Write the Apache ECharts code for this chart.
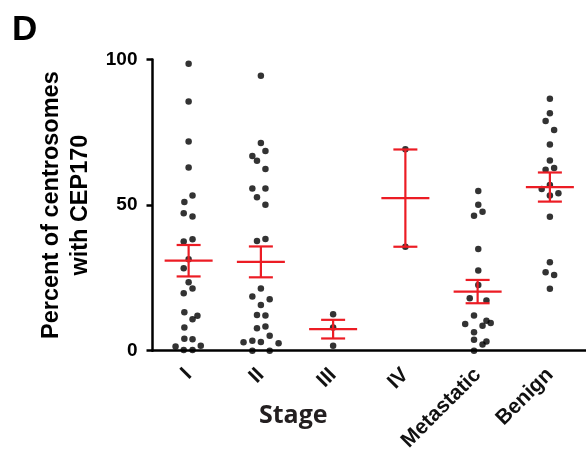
<!DOCTYPE html>
<html>
<head>
<meta charset="utf-8">
<script src="https://cdn.jsdelivr.net/npm/echarts@6/dist/echarts.min.js"></script>
<style>
  html, body { margin: 0; padding: 0; background: #fff; }
  #main { width: 586px; height: 458px; }
</style>
</head>
<body>
<div id="main"></div>
<script>
// categories on the x axis
const categories = ["I", "II", "III", "IV", "Metastatic", "Benign"];
// y axis ticks
const yTicks = [0, 50, 100];

// points per group: [horizontal jitter (category units), percent]
const stageI = [
  [0, 98.5], [0, 85.6], [0, 71.8], [0, 62.9], [0.054, 53.3], [-0.059, 51.1],
  [-0.068, 47.2], [0.054, 46.1], [0.054, 38.3], [-0.068, 37.5], [0, 31.4],
  [-0.068, 28.3], [0, 23.5], [0.054, 21.4], [-0.068, 19.7], [-0.059, 13.2],
  [0.122, 12.0], [0.054, 10.8], [-0.059, 8.0], [-0.059, 4.1], [0.054, 3.9],
  [-0.181, 1.4], [0.168, 1.7], [-0.068, 0.2], [0.054, 0.2]
];
const stageII = [
  [0, 94.4], [0, 71.3], [0.063, 68.6], [-0.118, 66.9], [-0.054, 65.2],
  [0.063, 62.4], [-0.118, 55.7], [0.063, 55.7], [-0.054, 52.7], [0.063, 50.1],
  [-0.054, 37.7], [0.063, 38.4], [0, 21.4], [-0.118, 18.6], [0.122, 17.7],
  [0, 15.7], [-0.054, 12.3], [0.063, 12.1], [-0.054, 7.7], [0.063, 8.3],
  [0.122, 5.1], [-0.24, 2.9], [-0.118, 3.4], [0, 3.0], [0.245, 2.6],
  [-0.118, 0], [0.122, 0]
];
const stageIII = [[0, 12.5], [0, 8.0], [0, 1.7]];
const stageIV = [[0, 69.2], [0, 35.7]];
const metastatic = [
  [0.009, 54.8], [0.009, 50.1], [-0.05, 46.3], [0.068, 47.7], [0.009, 34.9],
  [0.009, 27.5], [0.009, 22.6], [-0.109, 18.0], [0.122, 17.2], [-0.05, 12.1],
  [-0.172, 9.2], [0.122, 10.3], [0.181, 9.5], [0.068, 8.6], [-0.05, 6.3],
  [-0.05, 3.8], [0.122, 3.2], [0.068, 2.1], [-0.05, 0]
];
const benign = [
  [0, 86.5], [0, 81.5], [-0.059, 78.9], [0.059, 75.8], [0, 70.8], [0, 65.3],
  [-0.059, 62.1], [0.059, 62.7], [0, 56.9], [-0.113, 55.5], [0, 53.3],
  [0.118, 54.1], [0, 46.0], [0, 30.4], [-0.059, 26.9], [0.059, 26.0], [0, 21.3]
];

// mean and SEM per group
const means = [30.9, 30.5, 7.4, 52.4, 20.3, 56.2];
const sems = [5.4, 5.3, 3.2, 16.7, 4.0, 5.0];

const groups = [stageI, stageII, stageIII, stageIV, metastatic, benign];
const red = "#ec1c24";

var chart = echarts.init(document.getElementById("main"));

// scatter points, group i sits at x = i + 1 on the hidden value axis
var points = [];
groups.forEach(function (g, i) {
  g.forEach(function (p) {
    points.push([i + 1 + p[0], p[1]]);
  });
});

var bars = means.map(function (m, i) {
  return [i + 1, m, sems[i]];
});

function renderBar(params, api) {
  var x = api.value(0), m = api.value(1), s = api.value(2);
  var c = api.coord([x, m]);
  var hi = api.coord([x, m + s]);
  var lo = api.coord([x, m - s]);
  var style = { stroke: red, lineWidth: 2.2 };
  return {
    type: "group",
    children: [
      { type: "line", shape: { x1: c[0] - 24, y1: c[1], x2: c[0] + 24, y2: c[1] }, style: style },
      { type: "line", shape: { x1: c[0], y1: hi[1], x2: c[0], y2: lo[1] }, style: style },
      { type: "line", shape: { x1: c[0] - 12, y1: hi[1], x2: c[0] + 12, y2: hi[1] }, style: style },
      { type: "line", shape: { x1: c[0] - 12, y1: lo[1], x2: c[0] + 12, y2: lo[1] }, style: style }
    ]
  };
}

chart.setOption({
  animation: false,
  backgroundColor: "#fff",
  title: [
    {
      text: "D",
      left: 7,
      top: 8,
      textStyle: { fontFamily: "Liberation Sans", fontWeight: "bold", fontSize: 35, color: "#000" }
    },
    {
      text: "Stage",
      left: 254,
      top: 398,
      textStyle: { fontFamily: "Open Sans", fontWeight: "bold", fontSize: 25, color: "#231f20" }
    }
  ],
  grid: { left: 152.5, right: -7.5, top: 59.5, bottom: 107.3 },
  xAxis: [
    {
      type: "category",
      data: categories,
      boundaryGap: true,
      axisLine: { lineStyle: { color: "#000", width: 2.5 } },
      axisTick: { alignWithLabel: true, length: 6, lineStyle: { color: "#000", width: 2.5 } },
      axisLabel: {
        rotate: 45,
        margin: 21,
        padding: [12, 0, 0, 0],
        fontFamily: "Liberation Sans",
        fontWeight: "bold",
        fontSize: 21,
        color: "#111"
      },
      splitLine: { show: false }
    },
    {
      type: "value",
      min: 0.5,
      max: 6.5,
      show: false
    }
  ],
  yAxis: {
    type: "value",
    min: yTicks[0],
    max: yTicks[yTicks.length - 1],
    interval: yTicks[1] - yTicks[0],
    name: "Percent of centrosomes\nwith CEP170",
    nameLocation: "middle",
    nameRotate: 90,
    nameGap: 48,
    nameTextStyle: {
      fontFamily: "Liberation Sans",
      fontWeight: "bold",
      fontSize: 23.5,
      lineHeight: 29,
      color: "#000"
    },
    axisLine: { show: true, lineStyle: { color: "#000", width: 2.5 } },
    axisTick: { show: true, length: 6, lineStyle: { color: "#000", width: 2.5 } },
    axisLabel: {
      margin: 15,
      fontFamily: "Liberation Sans",
      fontWeight: "bold",
      fontSize: 19,
      color: "#000"
    },
    splitLine: { show: false }
  },
  series: [
    {
      type: "scatter",
      xAxisIndex: 1,
      data: points,
      symbolSize: 6.5,
      itemStyle: { color: "#000" },
      z: 3
    },
    {
      type: "custom",
      xAxisIndex: 1,
      data: bars,
      renderItem: renderBar,
      z: 4
    }
  ]
});
</script>
</body>
</html>
